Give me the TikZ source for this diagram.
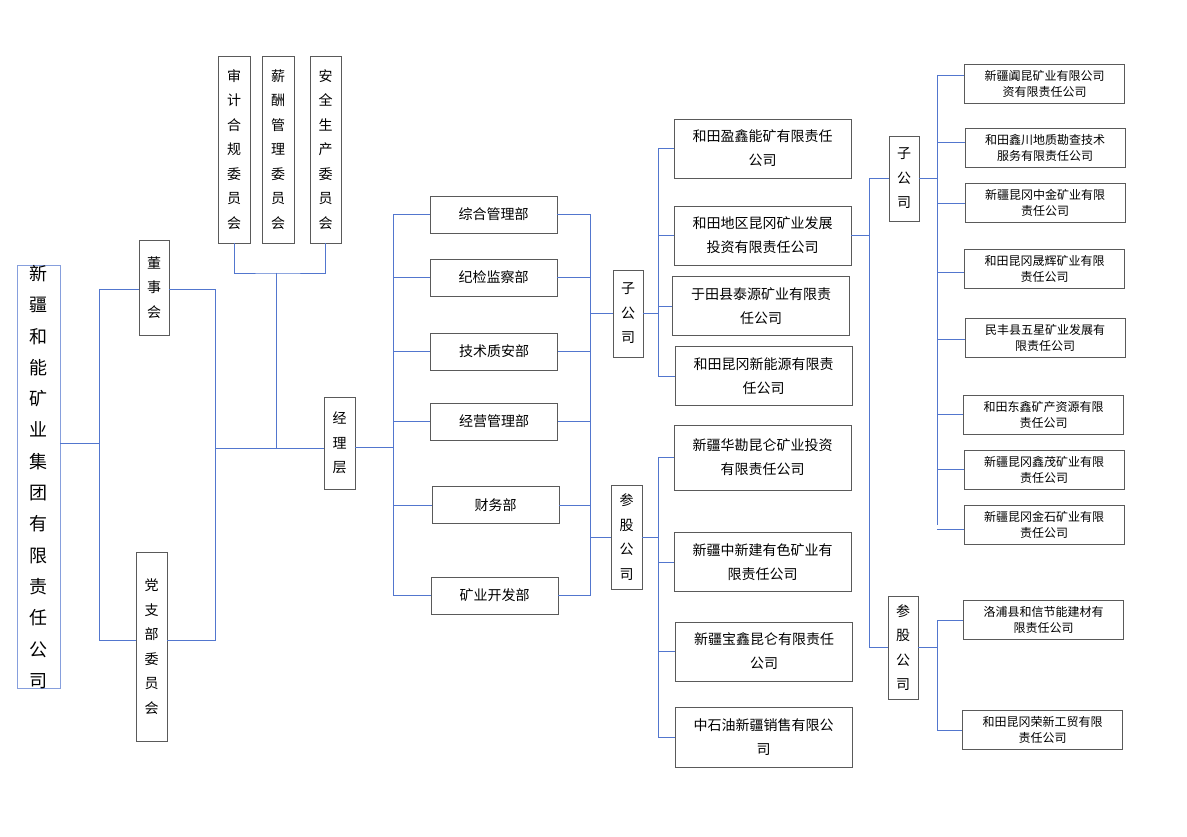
\documentclass[tikz,border=0pt]{standalone}
\usepackage{fontspec}
\setmainfont{Noto Sans CJK SC}
\usetikzlibrary{positioning,calc}
\definecolor{linkblue}{RGB}{82,118,206}
\definecolor{boxgray}{RGB}{90,90,90}

\begin{document}
\begin{tikzpicture}[x=1pt, y=-1pt,
    box/.style={rectangle, draw=boxgray, line width=0.8pt, align=center, inner sep=0pt},
    vbox/.style={box, font=\fontsize{14}{24.5}\selectfont},
    dept/.style={box, minimum width=127, minimum height=37, font=\fontsize{14}{17}\selectfont},
    firm/.style={box, minimum width=177, minimum height=59, font=\fontsize{14}{24}\selectfont},
    sub/.style={box, minimum width=160, minimum height=39, font=\fontsize{12}{16}\selectfont},
    link/.style={draw=linkblue, line width=0.9pt}
]
\useasboundingbox (0,0) rectangle (1187,837);

% Group and governance
\node[box, draw=linkblue!70, minimum width=43, minimum height=410, font=\fontsize{18}{31.3}\selectfont] (group) at (38.5,477) {新\\疆\\和\\能\\矿\\业\\集\\团\\有\\限\\责\\任\\公\\司};
\node[vbox, minimum width=30, minimum height=95] (board) at (154,287.5) {董\\事\\会};
\node[vbox, minimum width=31, minimum height=189] (party) at (151.5,646.5) {党\\支\\部\\委\\员\\会};

% Committees
\node[vbox, minimum width=32, minimum height=187] (audit) at (234,149.5) {审\\计\\合\\规\\委\\员\\会};
\node[vbox, minimum width=32, minimum height=187] (salary) at (278,149.5) {薪\\酬\\管\\理\\委\\员\\会};
\node[vbox, minimum width=31, minimum height=187] (safety) at (325.5,149.5) {安\\全\\生\\产\\委\\员\\会};

\node[vbox, minimum width=31, minimum height=92] (mgmt) at (339.5,443) {经\\理\\层};

% Departments
\node[dept] (d1) at (493.5,214.5) {综合管理部};
\node[dept] (d2) at (493.5,277.5) {纪检监察部};
\node[dept] (d3) at (494,351.5) {技术质安部};
\node[dept] (d4) at (494,421.5) {经营管理部};
\node[dept] (d5) at (495.5,505) {财务部};
\node[dept] (d6) at (494.5,595.5) {矿业开发部};

\node[vbox, minimum width=30, minimum height=87] (sub1) at (628,313.5) {子\\公\\司};
\node[vbox, minimum width=31, minimum height=104] (share1) at (626.5,537) {参\\股\\公\\司};

% First-level companies
\node[firm] (f1) at (762.5,148.5) {和田盈鑫能矿有限责任\\公司};
\node[firm] (f2) at (762.5,235.5) {和田地区昆冈矿业发展\\投资有限责任公司};
\node[firm] (f3) at (761,306) {于田县泰源矿业有限责\\任公司};
\node[firm] (f4) at (763.5,376) {和田昆冈新能源有限责\\任公司};
\node[firm, minimum height=65] (p1) at (762.5,457.5) {新疆华勘昆仑矿业投资\\有限责任公司};
\node[firm] (p2) at (762.5,562) {新疆中新建有色矿业有\\限责任公司};
\node[firm] (p3) at (764,651.5) {新疆宝鑫昆仑有限责任\\公司};
\node[firm, minimum height=60] (p4) at (763.5,737) {中石油新疆销售有限公\\司};

\node[vbox, minimum width=30, minimum height=85] (sub2) at (904,178.5) {子\\公\\司};
\node[vbox, minimum width=30, minimum height=103] (share2) at (903,647.5) {参\\股\\公\\司};

% Second-level companies
\node[sub] (s1) at (1044.5,84) {新疆阗昆矿业有限公司\\资有限责任公司};
\node[sub] (s2) at (1045,147.5) {和田鑫川地质勘查技术\\服务有限责任公司};
\node[sub] (s3) at (1045,203) {新疆昆冈中金矿业有限\\责任公司};
\node[sub] (s4) at (1044.5,268.5) {和田昆冈晟辉矿业有限\\责任公司};
\node[sub] (s5) at (1045,337.5) {民丰县五星矿业发展有\\限责任公司};
\node[sub] (s6) at (1043.5,414.5) {和田东鑫矿产资源有限\\责任公司};
\node[sub] (s7) at (1044,470) {新疆昆冈鑫茂矿业有限\\责任公司};
\node[sub] (s8) at (1044,525) {新疆昆冈金石矿业有限\\责任公司};
\node[sub] (q1) at (1043.5,620) {洛浦县和信节能建材有\\限责任公司};
\node[sub] (q2) at (1042.5,730) {和田昆冈荣新工贸有限\\责任公司};

% Bus coordinates
\coordinate (busA) at (99,0);
\coordinate (busB) at (215,0);
\coordinate (busC) at (276,0);
\coordinate (busD) at (393,0);
\coordinate (busE) at (590,0);
\coordinate (busF) at (658,0);
\coordinate (busG) at (869,0);
\coordinate (busH) at (937,0);

% Group to governance
\draw[link] (group.east |- 0,443) -- (busA |- 0,443);
\draw[link] (busA |- 0,289) -- (busA |- 0,640);
\draw[link] (busA |- 0,289) -- (board.west |- 0,289);
\draw[link] (busA |- 0,640) -- (party.west |- 0,640);
\draw[link] (board.east |- 0,289) -- (busB |- 0,289) -- (busB |- 0,640) -- (party.east |- 0,640);
\draw[link] (busB |- 0,448) -- (mgmt.west |- 0,448);

% Committees
\draw[link] (audit.south) |- (busC |- 0,273) -| (safety.south);
\draw[link] (busC |- 0,273) -- (busC |- 0,448);

% Departments
\draw[link] (mgmt.east |- 0,447) -- (busD |- 0,447);
\draw[link] (busD |- d1.west) -- (busD |- d6.west);
\foreach \d in {d1,d2,d3,d4,d5,d6}
  \draw[link] (busD |- \d.west) -- (\d.west);
\draw[link] (busE |- d1.east) -- (busE |- d6.east);
\foreach \d in {d1,d2,d3,d4,d5,d6}
  \draw[link] (\d.east) -- (busE |- \d.east);
\draw[link] (busE |- sub1.west) -- (sub1.west);
\draw[link] (busE |- share1.west) -- (share1.west);

% First-level companies
\draw[link] (sub1.east) -- (busF |- sub1.east);
\draw[link] (busF |- f1.west) -- (busF |- f4.west);
\foreach \f in {f1,f2,f3,f4}
  \draw[link] (busF |- \f.west) -- (\f.west);
\draw[link] (share1.east) -- (busF |- share1.east);
\draw[link] (busF |- p1.west) -- (busF |- p4.west);
\foreach \f in {p1,p2,p3,p4}
  \draw[link] (busF |- \f.west) -- (\f.west);

% Second-level companies
\draw[link] (f2.east) -- (busG |- f2.east);
\draw[link] (busG |- sub2.west) -- (busG |- share2.west);
\draw[link] (busG |- sub2.west) -- (sub2.west);
\draw[link] (busG |- share2.west) -- (share2.west);
\draw[link] (sub2.east) -- (busH |- sub2.east);
\draw[link] (busH |- 0,75) -- (busH |- s8.west);
\foreach \s/\y in {s1/75,s2/142,s3/203,s4/272,s5/339,s6/414,s7/469,s8/529}
  \draw[link] (busH |- 0,\y) -- (\s.west |- 0,\y);
\draw[link] (share2.east) -- (busH |- share2.east);
\draw[link] (busH |- q1.west) -- (busH |- q2.west);
\foreach \s in {q1,q2}
  \draw[link] (busH |- \s.west) -- (\s.west);
\end{tikzpicture}
\end{document}
